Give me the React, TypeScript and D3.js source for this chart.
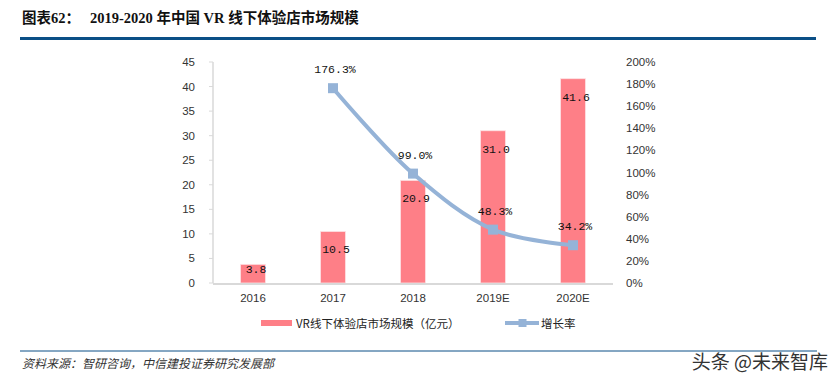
import React, { useEffect } from "react";
import * as d3 from "d3";

const categories = ["2016", "2017", "2018", "2019E", "2020E"];
const marketSize = [3.8, 10.5, 20.9, 31.0, 41.6];
const growthRate: (number | null)[] = [null, 176.3, 99.0, 48.3, 34.2];
const leftTicks = [0, 5, 10, 15, 20, 25, 30, 35, 40, 45];
const rightTicks = [0, 20, 40, 60, 80, 100, 120, 140, 160, 180, 200];
const sourceText = "资料来源：智研咨询，中信建投证券研究发展部";
const watermark = "头条 @未来智库";
const barLegend = "VR线下体验店市场规模（亿元）";
const lineLegend = "增长率";

const W = 840;
const H = 386;
const plot = { left: 213, right: 613, top: 62, bottom: 283 };
const barColor = "#fe7f87";
const lineColor = "#95b3d7";
const numFont = "'Liberation Mono', 'DejaVu Sans Mono', monospace";
const axisFont = "'Liberation Sans', Arial, sans-serif";
const cjkFont = "'Noto Sans CJK SC', sans-serif";

export default function App() {
  useEffect(() => {
    document.body.style.margin = "0";
  }, []);

  const x = d3.scaleBand<string>().domain(categories).range([plot.left, plot.right]).paddingInner(0).paddingOuter(0);
  const yL = d3.scaleLinear().domain([0, 45]).range([plot.bottom, plot.top]);
  const yR = d3.scaleLinear().domain([0, 200]).range([plot.bottom, plot.top]);
  const barW = 25;
  const cx = (c: string) => (x(c) as number) + x.bandwidth() / 2;

  const pts = categories
    .map((c, i) => ({ c, v: growthRate[i] }))
    .filter((d) => d.v !== null) as { c: string; v: number }[];
  const line = d3
    .line<{ c: string; v: number }>()
    .x((d) => cx(d.c))
    .y((d) => yR(d.v))
    .curve(d3.curveCatmullRom.alpha(0.5));

  return (
    <svg width={W} height={H} style={{ display: "block", background: "#fff" }}>
      {/* Title */}
      <text x={22} y={23} fontFamily="'Liberation Serif', 'Noto Sans CJK SC', serif" fontWeight="bold" fontSize={14.5} fill="#111">
        <tspan fontFamily={cjkFont}>图表</tspan>
        <tspan>62</tspan>
        <tspan fontFamily={cjkFont}>：</tspan>
        <tspan dx={10}>2019-2020 </tspan>
        <tspan fontFamily={cjkFont}>年中国</tspan>
        <tspan> VR </tspan>
        <tspan fontFamily={cjkFont}>线下体验店市场规模</tspan>
      </text>
      <rect x={20} y={37} width={796} height={3} fill="#0b4f86" />

      {/* Left axis */}
      {leftTicks.map((t) => (
        <text key={"l" + t} x={195} y={yL(t) + 4} textAnchor="end" fontFamily={axisFont} fontSize={11.5} fill="#333">
          {t}
        </text>
      ))}
      <line x1={plot.left} x2={plot.left} y1={plot.top} y2={plot.bottom} stroke="#d9d9d9" strokeWidth={1.5} />
      {leftTicks.map((t) => (
        <line key={"lt" + t} x1={plot.left - 4} x2={plot.left} y1={yL(t)} y2={yL(t)} stroke="#d9d9d9" strokeWidth={1} />
      ))}

      {/* Right axis labels */}
      {rightTicks.map((t) => (
        <text key={"r" + t} x={626} y={yR(t) + 4} textAnchor="start" fontFamily={axisFont} fontSize={11.5} fill="#333">
          {t + "%"}
        </text>
      ))}

      {/* Bars */}
      {categories.map((c, i) => (
        <rect
          key={"b" + c}
          x={cx(c) - barW / 2}
          y={yL(marketSize[i])}
          width={barW}
          height={plot.bottom - yL(marketSize[i])}
          fill={barColor}
          stroke="#fde3e5"
          strokeWidth={0.8}
        />
      ))}

      {/* Baseline */}
      <line x1={plot.left} x2={plot.right} y1={plot.bottom + 1} y2={plot.bottom + 1} stroke="#d9d9d9" strokeWidth={2} />

      {/* Bar labels */}
      {categories.map((c, i) => {
        const top = yL(marketSize[i]);
        const h = plot.bottom - top;
        const yy = h > 30 ? top + 22 : top + 9;
        return (
          <text key={"bl" + c} x={cx(c) + 3} y={yy} textAnchor="middle" fontFamily={numFont} fontSize={11.5} fill="#111">
            {marketSize[i].toFixed(1)}
          </text>
        );
      })}

      {/* Category labels */}
      {categories.map((c) => (
        <text key={"c" + c} x={cx(c)} y={302} textAnchor="middle" fontFamily={axisFont} fontSize={11.5} fill="#333">
          {c}
        </text>
      ))}

      {/* Growth line */}
      <path d={line(pts) || ""} fill="none" stroke={lineColor} strokeWidth={4} strokeLinejoin="round" />
      {pts.map((d) => (
        <rect key={"m" + d.c} x={cx(d.c) - 5} y={yR(d.v) - 5} width={10} height={10} fill={lineColor} />
      ))}
      {pts.map((d) => (
        <text key={"ml" + d.c} x={cx(d.c) + 2} y={yR(d.v) - 15} textAnchor="middle" fontFamily={numFont} fontSize={11.5} fill="#111">
          {d.v.toFixed(1) + "%"}
        </text>
      ))}

      {/* Legend */}
      <rect x={261} y={320} width={31} height={6} fill={barColor} />
      <text x={296} y={328} fontFamily={cjkFont} fontSize={11.5} fill="#222">
        {barLegend}
      </text>
      <line x1={505} x2={539} y1={323} y2={323} stroke={lineColor} strokeWidth={4} />
      <rect x={518.5} y={319} width={8} height={8} fill={lineColor} />
      <text x={541} y={328} fontFamily={cjkFont} fontSize={11.5} fill="#222">
        {lineLegend}
      </text>

      {/* Footer */}
      <line x1={20} x2={817} y1={351} y2={351} stroke="#0b4f86" strokeWidth={1} />
      <text x={22} y={368} fontFamily={cjkFont} fontStyle="italic" fontSize={12} fill="#333">
        {sourceText}
      </text>
      <text x={828} y={369} textAnchor="end" fontFamily={cjkFont} fontSize={19} fill="#333">
        {watermark}
      </text>
    </svg>
  );
}
